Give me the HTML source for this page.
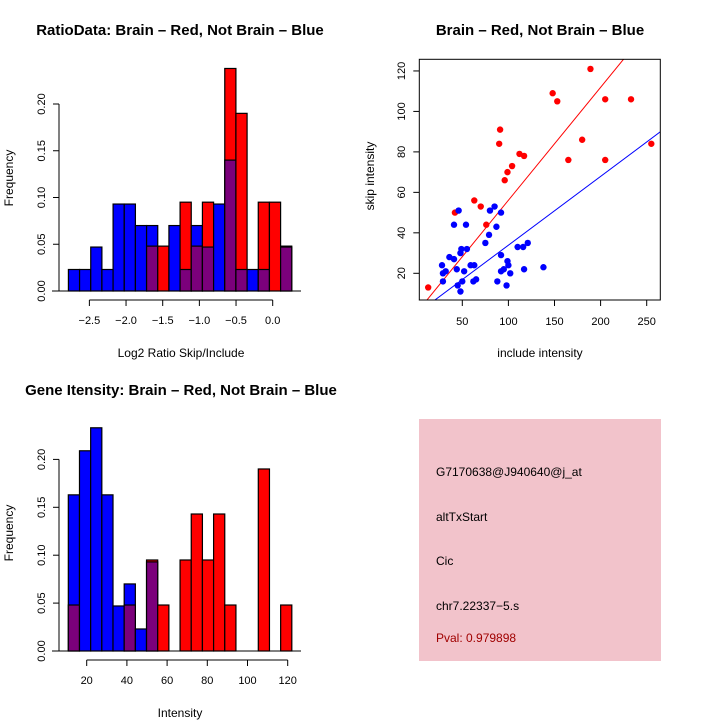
<!DOCTYPE html>
<html><head><meta charset="utf-8"><style>
body{margin:0;background:#fff;}
svg{display:block;font-family:"Liberation Sans",sans-serif;}
</style></head><body>
<svg id="s" width="720" height="720"></svg>
<script>
// ---- Ratio histogram data ----
const ratioBinStart = -2.786, ratioBinWidth = 0.1523;
const ratioBlue = [0.023,0.023,0.047,0.023,0.093,0.093,0.070,0.070,0,0.070,0.023,0.070,0.047,0.093,0.140,0.023,0.023,0.023,0,0.047];
const ratioRed  = [0,0,0,0,0,0,0,0.048,0.048,0,0.095,0.048,0.095,0,0.238,0.190,0,0.095,0.095,0.048];
const ratioXTicks = [-2.5,-2.0,-1.5,-1.0,-0.5,0.0];
const ratioYTicks = [0,0.05,0.10,0.15,0.20];
// ---- Scatter data ----
const redX = [13,189,148,153,205,233,255,180,165,205,91,90,112,117,104,99,96,63,70,42,76];
const redY = [13,121,109,105,106,106,84,86,76,76,91,84,79,78,73,70,66,56,53,50,44];
const blueX = [46,41,54,85,80,92,87,79,75,121,110,116,55,49,48,36,41,28,63,59,44,52,32,29,92,99,100,95,92,102,138,117,65,62,88,98,29,50,45,48];
const blueY = [51,44,44,53,51,50,43,39,35,35,33,33,32,32,30,28,27,24,24,24,22,21,21,20,29,26,24,22,21,20,23,22,17,16,16,14,16,16,14,11];
const redFit = [0.3, 0.558];   // intercept, slope
const blueFit = [-0.1, 0.340];
const scXTicks = [50,100,150,200,250];
const scYTicks = [20,40,60,80,100,120];
// ---- Intensity histogram data ----
const intBinStart = 10.85, intBinWidth = 5.56;
const intBlue = [0.163,0.209,0.233,0.163,0.047,0.070,0.023,0.093,0,0,0,0,0,0,0,0,0,0,0,0];
const intRed  = [0.048,0,0,0,0,0.048,0,0.095,0.048,0,0.095,0.143,0.095,0.143,0.048,0,0,0.190,0,0.048];
const intXTicks = [20,40,60,80,100,120];
const intYTicks = [0,0.05,0.10,0.15,0.20];

const S = document.getElementById('s');
const NS = 'http://www.w3.org/2000/svg';
function mk(tag, attrs, parent){const e=document.createElementNS(NS,tag);for(const k in attrs)e.setAttribute(k,attrs[k]);(parent||S).appendChild(e);return e;}
function txt(x,y,t,attrs){const e=mk('text',Object.assign({x:x,y:y,'font-size':12,'text-anchor':'middle'},attrs||{}));e.textContent=t;return e;}

function hist(g, start, w, blue, red, sx, sy){
  for(let i=0;i<blue.length;i++){
    const x0=sx(start+i*w), x1=sx(start+(i+1)*w);
    const b=blue[i], r=red[i], lo=Math.min(b,r), hi=Math.max(b,r);
    if(hi>0){
      const top=mk('rect',{x:x0,y:sy(hi),width:x1-x0,height:sy(0)-sy(hi),fill:(b>=r?'#0000ff':'#ff0000'),stroke:'#000','stroke-width':1.2},g);
      
      
    }
    if(lo>0){
      const p=mk('rect',{x:x0,y:sy(lo),width:x1-x0,height:sy(0)-sy(lo),fill:'#7b007b',stroke:'#000','stroke-width':1.2},g);
      
      
    }
  }
}
function yAxis(g,x,ticks,sy,fmt){
  mk('line',{x1:x,x2:x,y1:sy(ticks[0]),y2:sy(ticks[ticks.length-1]),stroke:'#000'},g);
  ticks.forEach(t=>{mk('line',{x1:x,x2:x-6,y1:sy(t),y2:sy(t),stroke:'#000'},g);
    txt(x-14,sy(t),fmt(t),{transform:'rotate(-90 '+(x-14)+' '+sy(t)+')','font-size':11});});
}
function xAxis(g,y,ticks,sx,fmt){
  mk('line',{x1:sx(ticks[0]),x2:sx(ticks[ticks.length-1]),y1:y,y2:y,stroke:'#000'},g);
  ticks.forEach(t=>{mk('line',{x1:sx(t),x2:sx(t),y1:y,y2:y+6,stroke:'#000'},g);txt(sx(t),y+24,fmt(t),{'font-size':11});});
}
function fmtMinus(v,d){return v.toFixed(d).replace('-','\u2212');}

// Panel 1
(function(){
  const g=mk('g',{});  
  const sx=v=>272.7+v*73.33, sy=v=>291-v*935;
  txt(180,35,'RatioData: Brain \u2013 Red, Not Brain \u2013 Blue',{'font-size':15,'font-weight':'bold'});
  hist(g,ratioBinStart,ratioBinWidth,ratioBlue,ratioRed,sx,sy);
  mk('line',{x1:52,x2:301,y1:291,y2:291,stroke:'#000'},g);
  yAxis(g,59,ratioYTicks,sy,v=>v.toFixed(2));
  xAxis(g,300,ratioXTicks,sx,v=>fmtMinus(v,1));
  txt(181,357,'Log2 Ratio Skip/Include');
  txt(13,178,'Frequency',{transform:'rotate(-90 13 178)'});
})();
// Panel 2
(function(){
  const g=mk('g',{});  
  const sx=v=>462.3+(v-50)*0.922, sy=v=>273.3-(v-20)*2.0235;
  txt(540,35,'Brain \u2013 Red, Not Brain \u2013 Blue',{'font-size':15,'font-weight':'bold'});
  const cp=mk('clipPath',{id:'cp'},g); mk('rect',{x:419.3,y:59.3,width:241,height:240.7},cp);
  const fits=[[redFit,'#ff0000','red-fit-line'],[blueFit,'#0000ff','blue-fit-line']];
  fits.forEach(f=>{const l=mk('line',{x1:sx(0),y1:sy(f[0][0]),x2:sx(300),y2:sy(f[0][0]+f[0][1]*300),stroke:f[1],'stroke-width':1,'clip-path':'url(#cp)'},g);
     });
  redX.forEach((x,i)=>{const c=mk('circle',{cx:sx(x),cy:sy(redY[i]),r:3.2,fill:'#ff0000'},g);
     });
  blueX.forEach((x,i)=>{const c=mk('circle',{cx:sx(x),cy:sy(blueY[i]),r:3.2,fill:'#0000ff'},g);
     });
  mk('rect',{x:419.3,y:59.3,width:241,height:240.7,fill:'none',stroke:'#000'},g);
  scXTicks.forEach(t=>{mk('line',{x1:sx(t),x2:sx(t),y1:300,y2:306,stroke:'#000'},g);txt(sx(t),325,String(t),{'font-size':11});});
  scYTicks.forEach(t=>{mk('line',{x1:419.3,x2:413.3,y1:sy(t),y2:sy(t),stroke:'#000'},g);
    txt(405,sy(t),String(t),{transform:'rotate(-90 405 '+sy(t)+')','font-size':11});});
  txt(540,357,'include intensity');
  txt(374,176,'skip intensity',{transform:'rotate(-90 374 176)'});
})();
// Panel 3
(function(){
  const g=mk('g',{});  
  const sx=v=>86.7+(v-20)*2.01, sy=v=>651-v*958;
  txt(181,395,'Gene Itensity: Brain \u2013 Red, Not Brain \u2013 Blue',{'font-size':15,'font-weight':'bold'});
  hist(g,intBinStart,intBinWidth,intBlue,intRed,sx,sy);
  mk('line',{x1:52,x2:301,y1:651,y2:651,stroke:'#000'},g);
  yAxis(g,59,intYTicks,sy,v=>v.toFixed(2));
  xAxis(g,660,intXTicks,sx,v=>String(v));
  txt(180,717,'Intensity');
  txt(13,533,'Frequency',{transform:'rotate(-90 13 533)'});
})();
</script>
<div style="position:absolute;left:419px;top:419px;width:242px;height:242px;background:#f2c3cb;font-family:'Liberation Sans',sans-serif;font-size:12px;">
<div style="position:absolute;left:17px;top:46px;">G7170638@J940640@j_at</div>
<div style="position:absolute;left:17px;top:91px;">altTxStart</div>
<div style="position:absolute;left:17px;top:135px;">Cic</div>
<div style="position:absolute;left:17px;top:180px;">chr7.22337&minus;5.s</div>
<div style="position:absolute;left:17px;top:212px;color:#a00000;">Pval: 0.979898</div>
</div>
</body></html>
